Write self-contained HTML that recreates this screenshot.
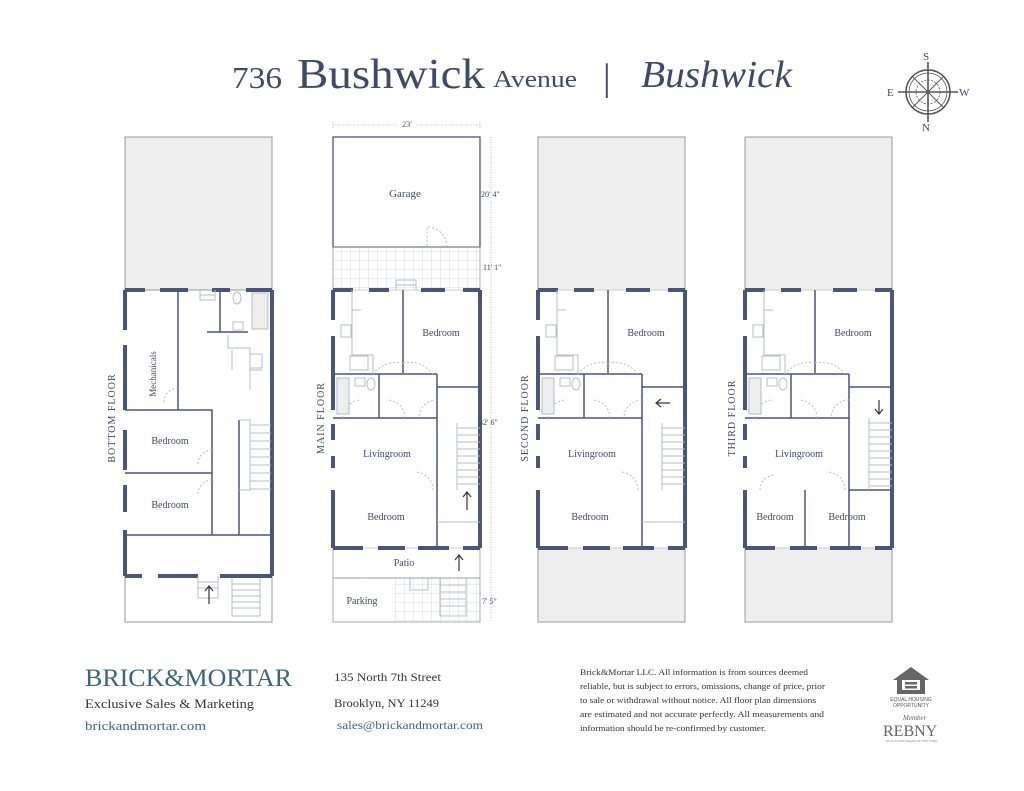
<!DOCTYPE html>
<html><head><meta charset="utf-8"><style>
html,body{margin:0;padding:0;background:#fff;}
svg{display:block;}
text{font-family:"Liberation Serif",serif;fill:#3f4a66;}
</style></head><body>
<svg width="1024" height="791" viewBox="0 0 1024 791" xmlns="http://www.w3.org/2000/svg">
<defs>
<pattern id="grid" width="9" height="9" patternUnits="userSpaceOnUse"><path d="M9 0V9M0 9H9" stroke="#cfd3dc" stroke-width="0.8" fill="none"/></pattern>
<g id="upper">
  <g stroke="#4a5578" stroke-width="4" fill="none">
    <path d="M0 0H20M36 0H56M88 0H112M130 0H147"/>
    <path d="M147 0V258"/>
    <path d="M0 0V30M0 46V120M0 134V150M0 166V178M0 200V258"/>
    <path d="M0 258H30M45 258H72M85 258H116M130 258H147"/>
  </g>
  <g stroke="#c8ccd6" stroke-width="1" fill="none"><path d="M20 0H36M56 0H88M112 0H130"/><path d="M30 258H45M72 258H85M116 258H130"/></g>
  <g stroke="#4a5578" stroke-width="1.5" fill="none">
    <path d="M70 0V83"/>
    <path d="M0 84H104"/>
    <path d="M104 97H147"/>
    <path d="M46 84V128"/>
    <path d="M0 128H104"/>
    <path d="M104 84V258"/>
  </g>
  <g stroke="#b7bcc7" stroke-width="1" fill="none">
    <path d="M19 0V65H40V84"/><path d="M19 20H28"/>
    <path d="M70 73A30 30 0 0 0 40 84" stroke-dasharray="2 2"/>
    <path d="M70 73A30 30 0 0 1 100 84" stroke-dasharray="2 2"/>
    <path d="M10 128A18 18 0 0 1 28 110" stroke-dasharray="2 2"/>
    <path d="M72 128A18 18 0 0 0 54 110" stroke-dasharray="2 2"/>
    <path d="M104 110A18 18 0 0 0 86 128" stroke-dasharray="2 2"/>
    <path d="M100 200A18 18 0 0 0 82 182" stroke-dasharray="2 2"/>
    <rect x="4" y="88" width="12" height="36" fill="#eee"/>
    <rect x="8" y="35" width="10" height="12"/>
    <rect x="17" y="66" width="18" height="14"/>
    <rect x="22" y="88" width="10" height="8"/>
    <ellipse cx="38" cy="94" rx="4" ry="6"/>
  </g>
</g>
</defs>

<text x="232" y="88" font-size="31" textLength="50" lengthAdjust="spacingAndGlyphs">736</text>
<text x="297" y="88" font-size="42" textLength="188" lengthAdjust="spacingAndGlyphs">Bushwick</text>
<text x="493" y="87" font-size="24" textLength="84" lengthAdjust="spacingAndGlyphs">Avenue</text>
<text x="603" y="90" font-size="38">|</text>
<text x="641" y="87" font-size="38" font-style="italic" textLength="151" lengthAdjust="spacingAndGlyphs">Bushwick</text>

<g stroke="#555" fill="none">
  <circle cx="928" cy="92" r="22" stroke-width="1.5"/>
  <circle cx="928" cy="92" r="19" stroke-width="0.8"/>
  <circle cx="928" cy="92" r="12" stroke-dasharray="2 1.5" stroke-width="0.8"/>
  <path d="M928 62V122M898 92H958" stroke-width="1.6"/>
  <path d="M913 77L943 107M943 77L913 107" stroke-width="0.9"/>
</g>
<text x="923" y="60" font-size="11">S</text>
<text x="887" y="96" font-size="11">E</text>
<text x="959" y="96" font-size="11">W</text>
<text x="922" y="131" font-size="11">N</text>

<!-- BOTTOM FLOOR -->
<rect x="125" y="137" width="147" height="153" fill="#eeeeee" stroke="#999" stroke-width="1"/>
<g stroke="#999" fill="none" stroke-width="1"><path d="M125 576V622H272V576"/></g>
<g stroke="#4a5578" stroke-width="4" fill="none">
  <path d="M125 290H145M160 290H188M212 290H230M246 290H272"/>
  <path d="M272 290V576"/>
  <path d="M125 290V330M125 345V410M125 430V470M125 485V512M125 530V576"/>
  <path d="M125 576H142M158 576H198M220 576H272"/>
</g>
<g stroke="#4a5578" stroke-width="1.5" fill="none">
  <path d="M178 290V410"/>
  <path d="M125 410H212V535"/>
  <path d="M125 473H212"/>
  <path d="M125 535H272"/>
  <path d="M239 420V535"/>
  <path d="M220 290V332H248M207 332H248"/>
</g>
<g stroke="#b7bcc7" stroke-width="1" fill="none">
  <path d="M239 420H250V490H239"/>
  <path d="M250 425H271M250 433H271M250 441H271M250 449H271M250 457H271M250 465H271M250 473H271M250 481H271M250 489H271"/>
  <path d="M200 290V300H215V290M200 295H215"/>
  <path d="M198 576V598H218V576M198 582H218M198 588H218"/>
  <path d="M232 578V616H260V578M232 584H260M232 590H260M232 596H260M232 602H260M232 608H260"/>
  <path d="M228 335V348H250M250 348V390M250 370H262M232 350V370"/>
  <rect x="252" y="293" width="16" height="36" fill="#eee"/>
  <ellipse cx="237" cy="298" rx="4" ry="6"/>
  <rect x="233" y="322" width="10" height="8"/>
  <rect x="250" y="354" width="12" height="14"/>
  <path d="M178 388A14 14 0 0 0 164 402" stroke-dasharray="2 2"/>
  <path d="M212 450A14 14 0 0 0 198 464" stroke-dasharray="2 2"/>
  <path d="M212 480A14 14 0 0 0 198 494" stroke-dasharray="2 2"/>
</g>
<path d="M209 604V586M205 591L209 586L213 591" stroke="#333" stroke-width="1.2" fill="none"/>
<text x="150" y="368" font-size="9" transform="rotate(-90 156 368)" text-anchor="middle">Mechanicals</text>
<text x="170" y="444" font-size="10" text-anchor="middle">Bedroom</text>
<text x="170" y="508" font-size="10" text-anchor="middle">Bedroom</text>
<text x="115" y="418" font-size="10" text-anchor="middle" transform="rotate(-90 115 418)" letter-spacing="1">BOTTOM FLOOR</text>

<!-- MAIN FLOOR -->
<rect x="333" y="137" width="147" height="110" fill="#fff" stroke="#4a5578" stroke-width="1.3"/>
<rect x="333" y="247" width="147" height="43" fill="url(#grid)" stroke="#999" stroke-width="0.8"/>
<rect x="333" y="548" width="147" height="30" fill="#fff" stroke="#999" stroke-width="0.8"/>
<rect x="333" y="578" width="147" height="44" fill="url(#grid)" stroke="#999" stroke-width="0.8"/>
<rect x="334" y="579" width="60" height="42" fill="#fff"/>
<path d="M447 247A20 20 0 0 0 427 227V247" stroke="#b7bcc7" stroke-dasharray="2 2" fill="none"/>
<g stroke="#b7bcc7" fill="none"><path d="M396 290V280H416V290M396 285H416"/><path d="M440 578V616H466V578M440 585H466M440 592H466M440 599H466M440 606H466"/><path d="M410 578V590H428V578"/></g>
<use href="#upper" x="333" y="290"/>
<g stroke="#b7bcc7" fill="none"><path d="M457 423V490"/><path d="M457 428H480M457 435H480M457 442H480M457 449H480M457 456H480M457 463H480M457 470H480M457 477H480M457 484H480"/><path d="M437 522H480"/></g>
<path d="M467 510V492M463 497L467 492L471 497" stroke="#333" stroke-width="1.2" fill="none"/>
<path d="M459 571V555M455 560L459 555L463 560" stroke="#333" stroke-width="1.2" fill="none"/>
<text x="405" y="197" font-size="11" text-anchor="middle">Garage</text>
<text x="441" y="336" font-size="10" text-anchor="middle">Bedroom</text>
<text x="387" y="457" font-size="10" text-anchor="middle">Livingroom</text>
<text x="386" y="520" font-size="10" text-anchor="middle">Bedroom</text>
<text x="404" y="566" font-size="10" text-anchor="middle">Patio</text>
<text x="362" y="604" font-size="10" text-anchor="middle">Parking</text>
<text x="324" y="418" font-size="10" text-anchor="middle" transform="rotate(-90 324 418)" letter-spacing="1">MAIN FLOOR</text>
<g stroke="#aaa" stroke-width="0.8" stroke-dasharray="1 1.5" fill="none">
  <path d="M333 125H398M416 125H480"/><path d="M333 122V128M480 122V128"/>
  <path d="M491 137V622"/>
</g>
<text x="407" y="127" font-size="8" text-anchor="middle">23'</text>
<text x="481" y="197" font-size="8">20' 4"</text>
<text x="483" y="270" font-size="8">11' 1"</text>
<text x="479" y="425" font-size="8">42' 6"</text>
<text x="482" y="604" font-size="8">7' 5"</text>

<!-- SECOND FLOOR -->
<rect x="538" y="137" width="147" height="153" fill="#eeeeee" stroke="#999" stroke-width="1"/>
<rect x="538" y="548" width="147" height="74" fill="#eeeeee" stroke="#999" stroke-width="1"/>
<use href="#upper" x="538" y="290"/>
<g stroke="#b7bcc7" fill="none"><path d="M662 423V490"/><path d="M662 428H685M662 435H685M662 442H685M662 449H685M662 456H685M662 463H685M662 470H685M662 477H685M662 484H685"/><path d="M642 522H685"/></g>
<path d="M670 403H656M661 399L656 403L661 407" stroke="#333" stroke-width="1.2" fill="none"/>
<text x="646" y="336" font-size="10" text-anchor="middle">Bedroom</text>
<text x="592" y="457" font-size="10" text-anchor="middle">Livingroom</text>
<text x="590" y="520" font-size="10" text-anchor="middle">Bedroom</text>
<text x="528" y="418" font-size="10" text-anchor="middle" transform="rotate(-90 528 418)" letter-spacing="1">SECOND FLOOR</text>

<!-- THIRD FLOOR -->
<rect x="745" y="137" width="147" height="153" fill="#eeeeee" stroke="#999" stroke-width="1"/>
<rect x="745" y="548" width="147" height="74" fill="#eeeeee" stroke="#999" stroke-width="1"/>
<use href="#upper" x="745" y="290"/>
<rect x="850" y="490" width="40" height="56" fill="#fff"/>
<g stroke="#4a5578" stroke-width="1.5" fill="none"><path d="M849 490H892"/><path d="M805 490V548"/></g>
<g stroke="#b7bcc7" fill="none"><path d="M869 418V490"/><path d="M869 423H892M869 430H892M869 437H892M869 444H892M869 451H892M869 458H892M869 465H892M869 472H892M869 479H892M869 486H892"/>
<path d="M760 490A15 15 0 0 1 775 475" stroke-dasharray="2 2"/></g>
<path d="M879 400V414M875 409L879 414L883 409" stroke="#333" stroke-width="1.2" fill="none"/>
<text x="853" y="336" font-size="10" text-anchor="middle">Bedroom</text>
<text x="799" y="457" font-size="10" text-anchor="middle">Livingroom</text>
<text x="775" y="520" font-size="10" text-anchor="middle">Bedroom</text>
<text x="847" y="520" font-size="10" text-anchor="middle">Bedroom</text>
<text x="735" y="418" font-size="10" text-anchor="middle" transform="rotate(-90 735 418)" letter-spacing="1">THIRD FLOOR</text>

<!-- FOOTER -->
<text x="85" y="686" font-size="25" style="fill:#3d6677" textLength="207" lengthAdjust="spacingAndGlyphs">BRICK&amp;MORTAR</text>
<text x="85" y="708" font-size="13" style="fill:#333" textLength="169" lengthAdjust="spacingAndGlyphs">Exclusive Sales &amp; Marketing</text>
<text x="85" y="730" font-size="13" style="fill:#3d6677" textLength="121" lengthAdjust="spacingAndGlyphs">brickandmortar.com</text>
<text x="334" y="681" font-size="12" style="fill:#333" textLength="107" lengthAdjust="spacingAndGlyphs">135 North 7th Street</text>
<text x="334" y="707" font-size="12" style="fill:#333" textLength="105" lengthAdjust="spacingAndGlyphs">Brooklyn, NY 11249</text>
<text x="337" y="729" font-size="12" style="fill:#3d6677" textLength="146" lengthAdjust="spacingAndGlyphs">sales@brickandmortar.com</text>
<g font-size="8.3">
<text x="580" y="675" style="fill:#333" textLength="228" lengthAdjust="spacingAndGlyphs">Brick&amp;Mortar LLC.  All information is from sources deemed</text>
<text x="580" y="689" style="fill:#333" textLength="245" lengthAdjust="spacingAndGlyphs">reliable, but is subject to errors, omissions, change of price, prior</text>
<text x="580" y="703" style="fill:#333" textLength="236" lengthAdjust="spacingAndGlyphs">to sale or withdrawal without notice.  All floor plan dimensions</text>
<text x="580" y="717" style="fill:#333" textLength="244" lengthAdjust="spacingAndGlyphs">are estimated and not accurate perfectly.  All measurements and</text>
<text x="580" y="731" style="fill:#333" textLength="186" lengthAdjust="spacingAndGlyphs">information should be re-confirmed by customer.</text>
</g>
<path d="M911 667L893 680H897V694H925V680H929Z" fill="#666"/>
<rect x="902" y="680" width="18" height="10" fill="#fff"/>
<rect x="905" y="682" width="12" height="2.5" fill="#666"/><rect x="905" y="686" width="12" height="2.5" fill="#666"/>
<text x="911" y="701" font-size="5" text-anchor="middle" style="fill:#555;font-family:'Liberation Sans',sans-serif">EQUAL HOUSING</text>
<text x="911" y="707" font-size="5" text-anchor="middle" style="fill:#555;font-family:'Liberation Sans',sans-serif">OPPORTUNITY</text>
<text x="903" y="720" font-size="7" font-style="italic" style="fill:#666">Member</text>
<text x="883" y="736" font-size="16" style="fill:#666">REBNY</text>
<text x="886" y="742" font-size="3" style="fill:#888">REAL ESTATE BOARD OF NEW YORK</text>
</svg>
</body></html>
